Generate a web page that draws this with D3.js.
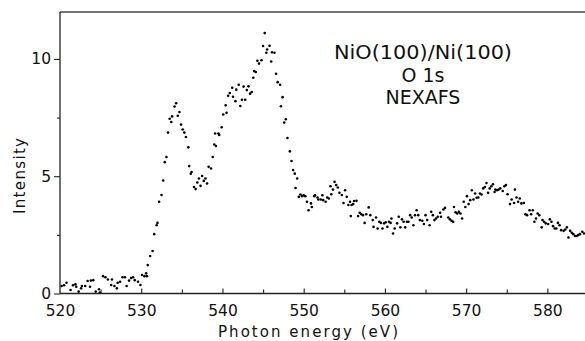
<!DOCTYPE html>
<html>
<head>
<meta charset="utf-8">
<script src="https://cdn.jsdelivr.net/npm/d3@7"></script>
<style>
  body { margin: 0; background: #fff; }
  text { font-family: "DejaVu Sans", sans-serif; fill: #111; }
</style>
</head>
<body>
<div id="viz"></div>
<script>
// NEXAFS O 1s spectrum, values as [photon energy, intensity]
var preEdge = [
  [520.2,0.32],[520.5,0.35],[520.8,0.46],[521.3,0.15],[521.6,0.35],[521.9,0.39],[522.0,0.29],
  [522.3,0.08],[522.6,0.22],[522.7,0.32],[523.1,0.32],[523.4,0.53],[523.7,0.29],[523.8,0.55],
  [524.1,0.57],[524.4,0.08],[524.8,0.18],[524.9,0.04],[525.3,0.74],[525.6,0.69],[525.9,0.60],
  [526.3,0.36],[526.4,0.60],[526.7,0.32],[527.0,0.22],[527.1,0.46],[527.4,0.50],[527.7,0.69],
  [528.0,0.69],[528.2,0.32],[528.5,0.55],[528.75,0.66],[529.0,0.69],[529.2,0.57],[529.6,0.50],
  [529.9,0.36],[530.1,0.79],[530.4,0.74],[530.6,0.86],[530.7,0.74],[530.8,1.21],[531.1,1.60],
  [531.4,1.81],[531.6,2.53],[531.9,2.91],[532.0,3.01],[532.2,3.91],[532.5,4.20],[532.7,4.82]
];
var whiteLine = [
  [532.9,5.60],[533.1,5.82],[533.3,6.86],[533.5,7.45],[533.7,7.31],[533.8,7.55],[534.1,7.97],
  [534.3,8.11],[534.5,7.58],[534.7,7.74],[534.9,7.20],[535.1,6.99],[535.3,6.86],[535.5,6.67],
  [535.8,6.23],[535.9,5.43],[536.1,5.11],[536.2,5.18],[536.5,4.54],[536.7,4.45],[536.9,4.73],
  [537.1,4.90],[537.3,4.59],[537.5,5.01],[537.7,4.80],[537.9,4.90],[538.1,4.69],[538.3,5.40],
  [538.6,5.33]
];
var mainPeak = [
  [538.8,5.82],[539.0,6.35],[539.1,6.82],[539.2,6.29],[539.5,6.82],[539.6,6.76],[539.9,7.09],
  [540.1,7.63],[540.4,8.02],[540.5,7.70],[540.7,8.43],[540.9,8.55],[541.2,8.77],[541.3,8.39],
  [541.6,8.20],[541.7,8.69],[542.0,8.90],[542.2,7.99],[542.4,8.26],[542.6,8.82],[542.8,8.26],
  [543.0,8.67],[543.2,8.83],[543.4,8.52],[543.6,8.59],[543.8,9.20],[543.9,9.48],[544.1,9.44],
  [544.3,9.92],[544.5,9.80],[544.8,9.94],[545.0,10.55],[545.2,11.10],[545.4,10.26],[545.5,10.40],
  [545.8,10.56],[546.0,9.89],[546.1,10.28],[546.4,10.26],[546.6,9.37],[546.8,9.01],[547.1,8.90],
  [547.2,7.98],[547.4,8.37],[547.6,7.29],[547.8,7.43],[548.0,6.63],[548.3,6.06],[548.5,5.65],
  [548.7,5.26],[548.9,5.11],[549.0,4.50],[549.2,4.90]
];
var plateau = [
  [549.4,4.12],[549.6,4.22],[549.8,4.15],[550.0,4.19],[550.2,4.15],[550.4,3.91],[550.6,3.55],
  [550.9,3.84],[551.0,3.69],[551.3,4.15],[551.4,4.19],[551.7,4.09],[551.8,4.01],[552.1,4.01],
  [552.3,4.19],[552.4,3.98],[552.7,3.91],[552.9,4.09],[553.1,4.05],[553.3,4.57],[553.4,4.23],
  [553.6,4.43],[553.8,4.76],[554.0,4.62],[554.2,4.52],[554.4,4.29],[554.7,4.20],[554.9,3.86],
  [555.1,4.40],[555.3,4.12],[555.5,3.77],[555.7,3.91],[555.8,3.30],[555.9,3.77],[556.1,3.81],
  [556.2,3.94],[556.5,3.95],[556.7,3.30],[556.9,3.44]
];
var trough = [
  [557.1,3.38],[557.3,3.34],[557.5,3.01],[557.7,3.38],[558.0,3.67],[558.2,3.34],[558.5,3.13],
  [558.6,2.84],[558.9,3.24],[559.1,2.77],[559.3,3.06],[559.5,3.01],[559.7,2.77],[559.9,2.99],
  [560.1,3.04],[560.3,2.84],[560.5,3.06],[560.7,3.01],[560.8,3.20],[561.0,2.56],[561.2,2.77],
  [561.5,2.99],[561.7,3.27],[561.9,2.82],[562.1,3.16],[562.3,3.06],[562.5,2.82],[562.7,3.06],
  [562.9,3.06],[563.1,3.34],[563.3,3.24],[563.5,2.91],[563.7,3.34],[563.9,3.55],[564.1,3.34],
  [564.3,3.13],[564.6,3.10],[564.8,2.96],[565.0,3.34],[565.2,3.13],[565.5,2.91],[565.7,3.48],
  [565.9,3.34],[566.1,3.13],[566.3,3.20],[566.5,3.27],[566.8,3.44]
];
var broadPeak = [
  [566.9,3.27],[567.2,3.58],[567.4,3.65],[567.8,3.24],[568.0,3.16],[568.2,3.10],[568.4,3.06],
  [568.5,3.69],[568.7,3.46],[568.9,3.41],[569.1,3.48],[569.3,3.41],[569.5,3.20],[569.7,3.91],
  [569.9,3.69],[570.1,4.15],[570.3,3.81],[570.5,3.98],[570.7,4.40],[570.9,4.01],[571.1,4.26],
  [571.3,4.08],[571.5,4.09],[571.7,4.26],[571.9,4.22],[572.1,4.48],[572.3,4.54],[572.5,4.71],
  [572.7,4.29],[572.9,4.48],[573.1,4.57],[573.3,4.66],[573.5,4.33],[573.6,4.43],[573.8,4.40],
  [574.0,4.43],[574.2,4.48],[574.5,4.37],[574.7,4.57],[574.9,4.62],[575.1,4.23],[575.4,3.81],
  [575.6,4.01],[575.9,3.86],[576.0,4.43],[576.2,4.09],[576.4,3.91],[576.6,4.05],[576.8,3.84]
];
var tail = [
  [577.1,3.86],[577.3,3.38],[577.5,3.34],[577.8,3.55],[578.0,3.38],[578.2,3.55],[578.4,3.06],
  [578.6,3.20],[578.8,3.41],[579.0,3.34],[579.3,2.82],[579.4,3.13],[579.6,3.06],[579.8,2.99],
  [580.1,2.96],[580.3,3.16],[580.5,3.06],[580.7,2.87],[580.9,2.77],[581.1,2.77],[581.3,3.01],
  [581.5,2.91],[581.7,2.70],[582.0,2.67],[582.2,2.73],[582.4,2.82],[582.6,2.39],[582.8,2.67],
  [583.0,2.59],[583.2,2.53],[583.4,2.45],[583.6,2.45],[583.8,2.49],[584.0,2.53],[584.3,2.63],
  [584.5,2.56],[584.8,2.63]
];

var xMajorTicks = [520, 530, 540, 550, 560, 570, 580];
var xMinorTicks = [525, 535, 545, 555, 565, 575];
var yMajorTicks = [0, 5, 10];
var yMinorTicks = [2.5, 7.5];
var annotation = ["NiO(100)/Ni(100)", "O 1s", "NEXAFS"];

var w = 585;
var h = 341;
var margin = { left: 60, right: 0, top: 12, bottom: 48 };

var svg = d3.select("div#viz")
  .append("svg")
  .attr("width", w)
  .attr("height", h);

var x = d3.scaleLinear().domain([520, 585]).range([margin.left, 588]);
var y = d3.scaleLinear().domain([0, 12]).range([h - margin.bottom + 0.5, margin.top]);

var data = [].concat(preEdge, whiteLine, mainPeak, plateau, trough, broadPeak, tail);

svg.append("defs").append("clipPath")
  .attr("id", "plotclip")
  .append("rect")
  .attr("x", margin.left).attr("y", margin.top)
  .attr("width", w - margin.left).attr("height", y(0) - margin.top);

// frame: left, bottom and top lines
svg.append("line")
  .attr("x1", margin.left).attr("x2", w)
  .attr("y1", margin.top).attr("y2", margin.top)
  .attr("stroke", "#444").attr("stroke-width", 1.3);

// x axis, ticks pointing into the plot
var xAxis = d3.axisBottom(x).tickValues(xMajorTicks).tickSize(-5).tickPadding(11)
  .tickFormat(d3.format("d"));
var gx = svg.append("g")
  .attr("transform", "translate(0," + y(0) + ")")
  .call(xAxis);
gx.select(".domain").attr("d", "M" + margin.left + ",0H" + w);
gx.selectAll(".tick").filter(function(d) { return d === 520; }).select("line").remove();
svg.append("g")
  .attr("transform", "translate(0," + y(0) + ")")
  .call(d3.axisBottom(x).tickValues(xMinorTicks).tickSize(-4).tickFormat(""))
  .select(".domain").remove();

var yAxis = d3.axisLeft(y).tickValues(yMajorTicks).tickSize(6).tickPadding(3);
var gy = svg.append("g")
  .attr("transform", "translate(" + margin.left + ",0)")
  .call(yAxis);
gy.select(".domain").attr("d", "M0," + margin.top + "V" + y(0));
svg.append("g")
  .attr("transform", "translate(" + margin.left + ",0)")
  .call(d3.axisLeft(y).tickValues(yMinorTicks).tickSize(3).tickFormat(""))
  .select(".domain").remove();

svg.selectAll(".domain").attr("stroke", "#222").attr("stroke-width", 1.3);
svg.selectAll(".tick line").attr("stroke", "#222").attr("stroke-width", 1.1);
svg.selectAll(".tick text")
  .style("font-family", "DejaVu Sans, sans-serif")
  .style("font-size", "15.5px")
  .attr("fill", "#111");

// the dots
svg.append("g")
  .attr("clip-path", "url(#plotclip)")
  .selectAll("circle")
  .data(data)
  .enter()
  .append("circle")
  .attr("cx", function(d) { return x(d[0]); })
  .attr("cy", function(d) { return y(d[1]); })
  .attr("r", 1.3)
  .attr("fill", "#000");

// axis titles
svg.append("text")
  .attr("x", 308).attr("y", 337)
  .attr("text-anchor", "middle")
  .attr("textLength", 180)
  .attr("lengthAdjust", "spacing")
  .style("font-size", "15px")
  .text("Photon energy (eV)");

svg.append("text")
  .attr("transform", "translate(25,176)rotate(-90)")
  .attr("text-anchor", "middle")
  .attr("textLength", 76)
  .attr("lengthAdjust", "spacing")
  .style("font-size", "15px")
  .text("Intensity");

// label block in the upper right
svg.selectAll("text.note")
  .data(annotation)
  .enter()
  .append("text")
  .attr("class", "note")
  .attr("x", 423)
  .attr("y", function(d, i) { return 59 + i * 22.5; })
  .attr("text-anchor", "middle")
  .style("font-size", "19px")
  .text(function(d) { return d; })
  .each(function(d, i) { if (i === 0) d3.select(this).attr("textLength", 178).attr("lengthAdjust", "spacingAndGlyphs"); });
</script>
</body>
</html>
